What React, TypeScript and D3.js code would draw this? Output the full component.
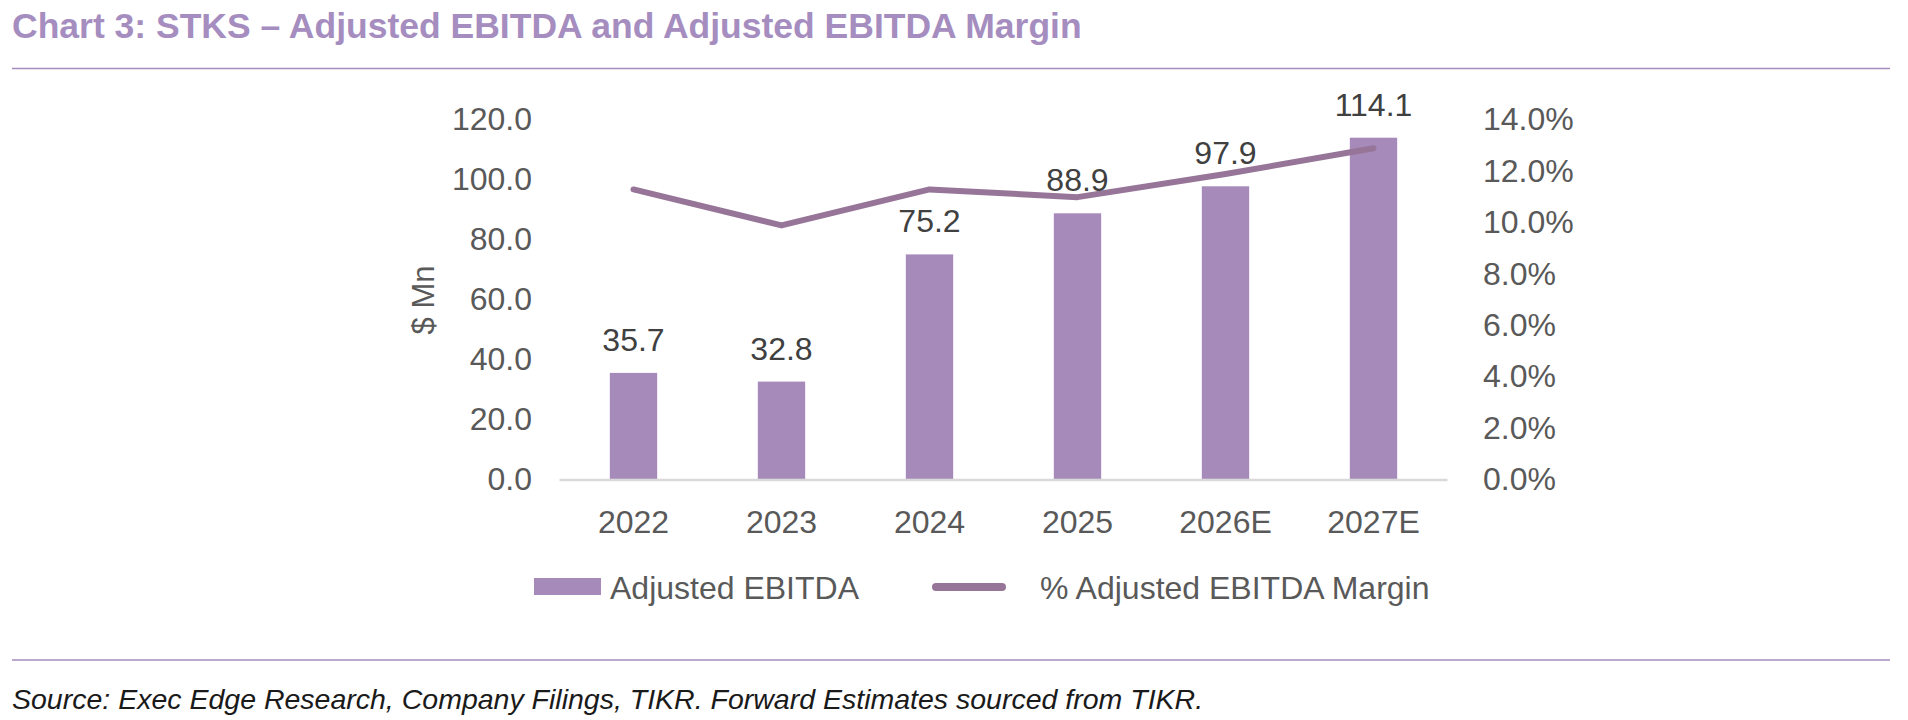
import React from "react";
import * as d3 from "d3";

const categories = ["2022", "2023", "2024", "2025", "2026E", "2027E"];
const ebitda = [35.7, 32.8, 75.2, 88.9, 97.9, 114.1];
const marginPct = [11.3, 9.9, 11.3, 11.0, 11.9, 12.9];
const leftTicks = [0, 20, 40, 60, 80, 100, 120];
const rightTicks = [0, 2, 4, 6, 8, 10, 12, 14];

const title = "Chart 3: STKS \u2013 Adjusted EBITDA and Adjusted EBITDA Margin";
const source = "Source: Exec Edge Research, Company Filings, TIKR. Forward Estimates sourced from TIKR.";
const barLegend = "Adjusted EBITDA";
const lineLegend = "% Adjusted EBITDA Margin";
const yTitle = "$ Mn";

const W = 1908;
const H = 720;
const FONT = "'Liberation Sans', Arial, Helvetica, sans-serif";
const BAR = "#A68BBA";
const LINE = "#967598";
const PURPLE = "#A58DBF";

export default function App() {
  const x = d3
    .scaleBand<string>()
    .domain(categories)
    .range([559.5, 1447.5])
    .paddingInner(0.68)
    .paddingOuter(0.34);
  const yL = d3.scaleLinear().domain([0, 120]).range([480, 120]);
  const yR = d3.scaleLinear().domain([0, 14]).range([480, 120]);

  const line = d3
    .line<number>()
    .x((_, i) => (x(categories[i]) as number) + x.bandwidth() / 2)
    .y((d) => yR(d));

  return (
    <div style={{ position: "absolute", left: 0, top: 0, background: "#fff" }}>
      <svg width={W} height={H} style={{ display: "block", fontFamily: FONT }}>
        <rect x={0} y={0} width={W} height={H} fill="#fff" />
        <text x={12} y={38} fontSize={35.5} fontWeight="bold" fill={PURPLE}>
          {title}
        </text>
        <line x1={12} x2={1890} y1={68.5} y2={68.5} stroke={PURPLE} strokeWidth={1.5} />

        {/* left axis ticks */}
        {leftTicks.map((t) => (
          <text key={"l" + t} x={532} y={yL(t)} dy="0.32em" fontSize={32} fill="#595959" textAnchor="end">
            {d3.format(".1f")(t)}
          </text>
        ))}
        {rightTicks.map((t) => (
          <text key={"r" + t} x={1483} y={yR(t)} dy="0.32em" fontSize={32} fill="#595959" textAnchor="start">
            {d3.format(".1f")(t) + "%"}
          </text>
        ))}
        <text
          transform={`translate(423,300) rotate(-90)`}
          fontSize={31}
          fill="#595959"
          textAnchor="middle"
          dy="0.36em"
        >
          {yTitle}
        </text>

        {/* bars */}
        {ebitda.map((v, i) => (
          <rect
            key={"b" + i}
            x={x(categories[i])}
            y={yL(v)}
            width={x.bandwidth()}
            height={yL(0) - yL(v)}
            fill={BAR}
          />
        ))}
        <line x1={559.5} x2={1447.5} y1={yL(0)} y2={yL(0)} stroke="#D9D9D9" strokeWidth={2.5} />

        {/* line */}
        <path
          d={line(marginPct) as string}
          fill="none"
          stroke={LINE}
          strokeWidth={6}
          strokeLinecap="round"
          strokeLinejoin="round"
        />

        {/* data labels */}
        {ebitda.map((v, i) => (
          <text
            key={"d" + i}
            x={(x(categories[i]) as number) + x.bandwidth() / 2}
            y={yL(v) - 22}
            fontSize={32}
            fill="#404040"
            textAnchor="middle"
          >
            {d3.format(".1f")(v)}
          </text>
        ))}

        {/* x labels */}
        {categories.map((c) => (
          <text
            key={"x" + c}
            x={(x(c) as number) + x.bandwidth() / 2}
            y={533}
            fontSize={32}
            fill="#595959"
            textAnchor="middle"
          >
            {c}
          </text>
        ))}

        {/* legend */}
        <rect x={534} y={578} width={67} height={17} fill={BAR} />
        <text x={610} y={598.5} fontSize={32} fill="#595959">
          {barLegend}
        </text>
        <line x1={936} x2={1002} y1={587} y2={587} stroke={LINE} strokeWidth={8} strokeLinecap="round" />
        <text x={1040} y={598.5} fontSize={32} fill="#595959">
          {lineLegend}
        </text>

        <line x1={12} x2={1890} y1={660} y2={660} stroke={PURPLE} strokeWidth={1.5} />
        <text x={12} y={709} fontSize={28.5} fontStyle="italic" fill="#1a1a1a">
          {source}
        </text>
      </svg>
    </div>
  );
}
